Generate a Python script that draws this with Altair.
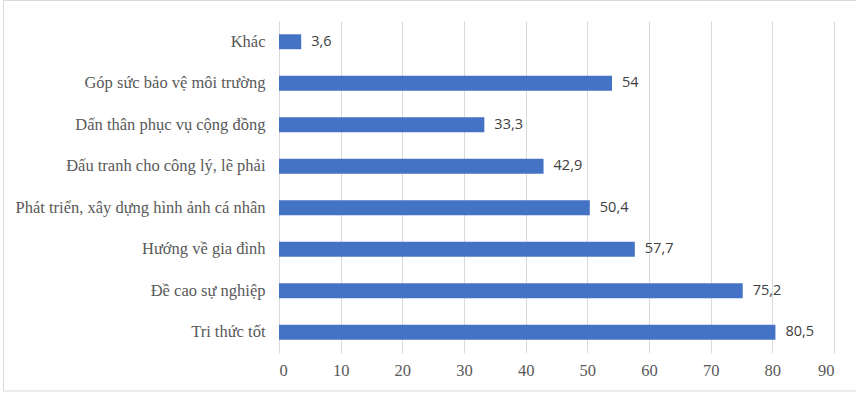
import altair as alt
import pandas as pd

categories = [
    "Khác",
    "Góp sức bảo vệ môi trường",
    "Dấn thân phục vụ cộng đồng",
    "Đấu tranh cho công lý, lẽ phải",
    "Phát triển, xây dựng hình ảnh cá nhân",
    "Hướng về gia đình",
    "Đề cao sự nghiệp",
    "Tri thức tốt",
]
values = [3.6, 54, 33.3, 42.9, 50.4, 57.7, 75.2, 80.5]
x_ticks = [0, 10, 20, 30, 40, 50, 60, 70, 80, 90]

df = pd.DataFrame({
    "cat": categories,
    "val": values,
    "label": [f"{v:g}".replace(".", ",") for v in values],
})

W, H = 555, 332
PAD_L, PAD_T, PAD_R, PAD_B = 279, 21, 22, 40
SERIF = "Times New Roman, Liberation Serif, serif"

y_enc = alt.Y(
    "cat:N",
    sort=categories,
    scale=alt.Scale(paddingInner=0.64, paddingOuter=0.32),
    axis=alt.Axis(
        title=None, domain=False, ticks=False, grid=False,
        labelFont=SERIF, labelFontSize=16.5, labelColor="#595959",
        labelPadding=14, labelLimit=400,
    ),
)
x_enc = alt.X(
    "val:Q",
    scale=alt.Scale(domain=[0, 90], nice=False),
    axis=alt.Axis(
        title=None, domain=False, ticks=False, grid=True, values=x_ticks,
        gridColor="#d9d9d9", gridWidth=1,
        labelFont=SERIF, labelFontSize=16.5, labelColor="#595959",
        labelPadding=9,
    ),
)

base = alt.Chart(df)
bars = base.mark_bar(color="#4472C4").encode(x=x_enc, y=y_enc)
texts = base.mark_text(
    align="left", baseline="middle", dx=10,
    font="Open Sans", fontSize=14.5, color="#404040",
).encode(x="val:Q", y=alt.Y("cat:N", sort=categories), text="label:N")

frame = alt.Chart(alt.Data(values=[{"a": 1}])).mark_rect(
    fill=None, stroke="#d9d9d9", strokeWidth=1
).encode(
    x=alt.value(-(PAD_L - 3.5)),
    x2=alt.value(W + PAD_R + 20),
    y=alt.value(-(PAD_T - 0.5)),
    y2=alt.value(H + PAD_B - 2),
)

chart = alt.layer(bars, texts, frame).properties(
    width=W, height=H,
    autosize=alt.AutoSizeParams(type="none"),
    padding={"left": PAD_L, "top": PAD_T, "right": PAD_R, "bottom": PAD_B},
    background="white",
).configure_view(stroke=None)

chart.save("out.html", embed_options={"renderer": "svg", "actions": False})
